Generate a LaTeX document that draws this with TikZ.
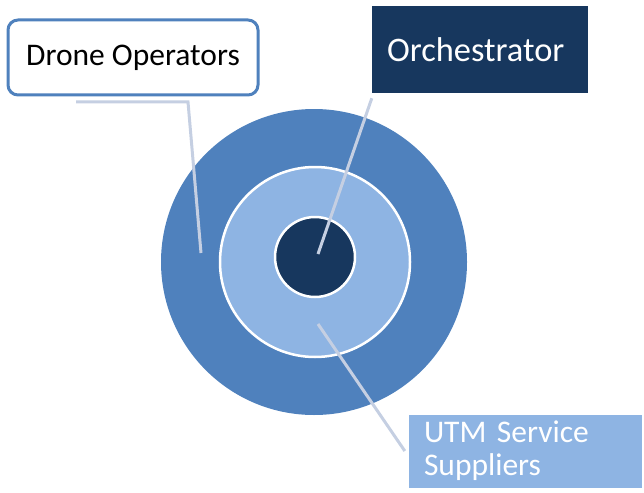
\documentclass[tikz,border=0pt]{standalone}
\usepackage{fontspec}
\setmainfont{Carlito}
\definecolor{ringblue}{RGB}{79,129,189}
\definecolor{ringlight}{RGB}{142,180,227}
\definecolor{ringnavy}{RGB}{23,55,94}
\definecolor{leadergray}{RGB}{197,207,226}

\begin{document}
\begin{tikzpicture}[x=1pt,y=-1pt]

%
% Styles
%
\tikzstyle{ring}   = [circle,inner sep=0pt,draw=white,line width=2.5pt]
\tikzstyle{leader} = [draw=leadergray,line width=3pt]
\tikzstyle{label}  = [font=\fontsize{31.5}{33}\selectfont,inner sep=0pt]

\useasboundingbox (0,0) rectangle (644,492);

\node[ring,draw=none,fill=ringblue,minimum size=306pt] (outer)  at (314,262) {};
\node[ring,fill=ringlight,minimum size=190pt]          (middle) at (315,262) {};
\node[ring,fill=ringnavy,minimum size=80pt]            (inner)  at (315,257) {};

\node[label,draw=ringblue,line width=3pt,fill=white,rounded corners=10pt,
      minimum width=250pt,minimum height=75pt] (drone) at (133,57.5) {Drone Operators};
\node[label,fill=ringnavy,text=white,minimum height=87pt,inner xsep=15pt,
      text width=186pt,align=left,
      font=\fontsize{34.4}{36}\selectfont] (orch) at (480,49.5) {Orchestrator};
\node[label,fill=ringlight,text=white,minimum width=233pt,minimum height=73pt,
      text width=203pt,align=left] (utm) at (525.5,451) {UTM Service\\Suppliers};

\coordinate (dtail) at (76,102);
\coordinate (dbend) at (188,102);
\coordinate (dtip)  at (201,253);
\coordinate (otip)  at (318,254);
\coordinate (utip)  at (318,324);

\draw[leader] (dtail) -- (dbend) -- (dtip);
\draw[leader] ([yshift=-5pt]orch.south west) -- (otip);
\draw[leader] ([xshift=-4pt]utm.west) -- (utip);

\end{tikzpicture}
\end{document}
